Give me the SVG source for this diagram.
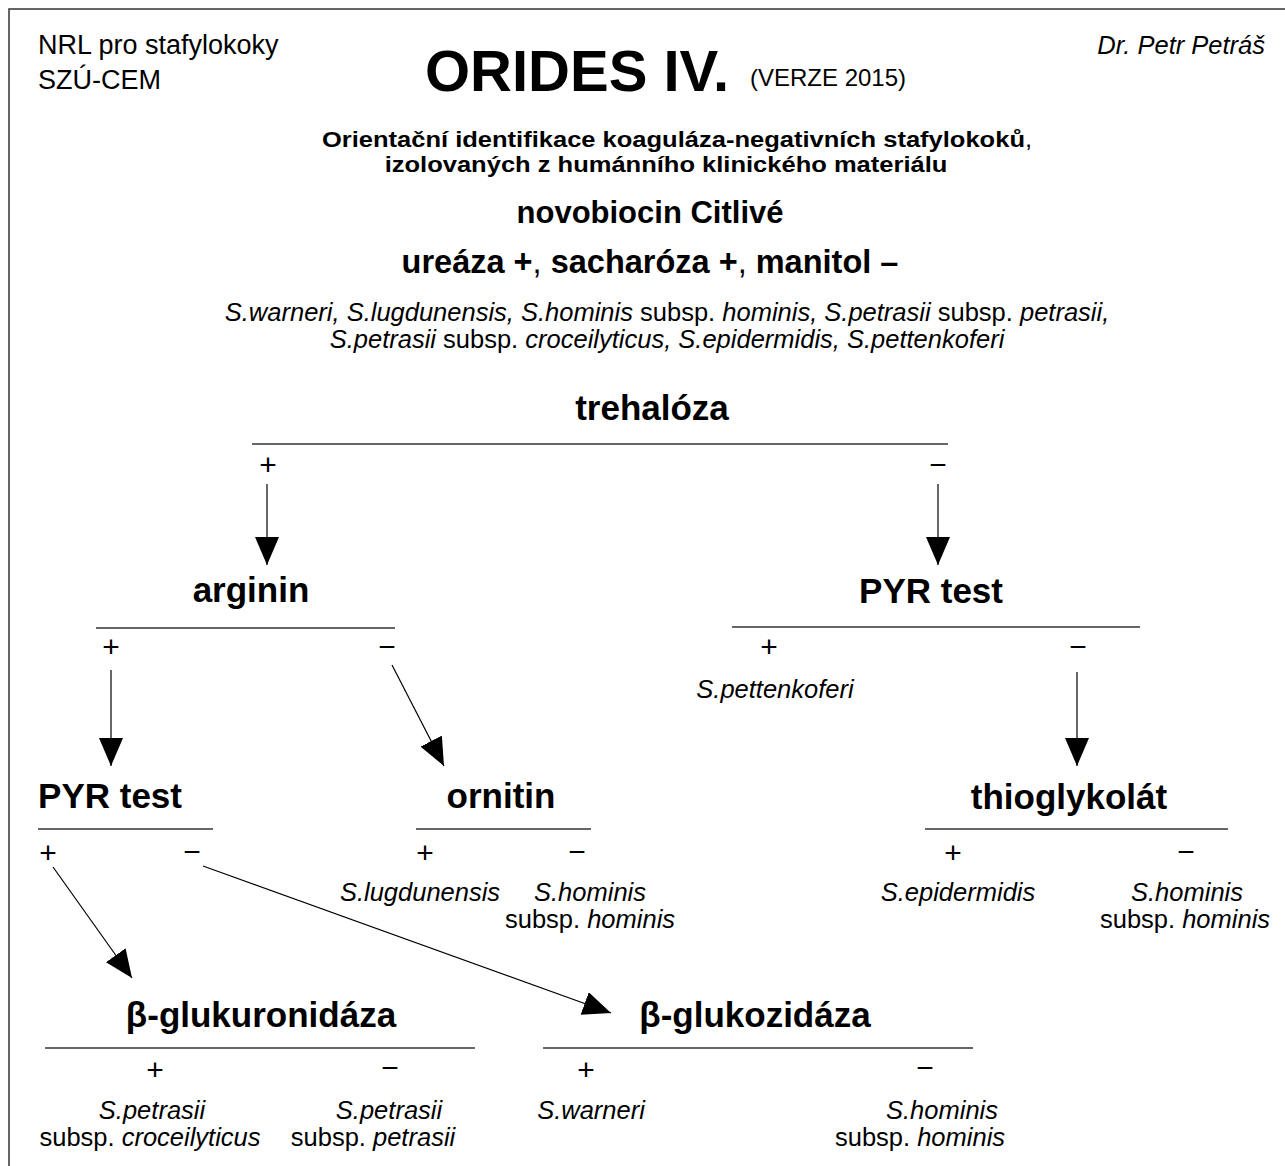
<svg xmlns="http://www.w3.org/2000/svg" width="1285" height="1166" viewBox="0 0 1285 1166">
<style>
text{font-family:"Liberation Sans",Arial,sans-serif;fill:#000}
.hdr{font-size:27px}
.title{font-size:58px;font-weight:bold}
.sub{font-size:22px;font-weight:bold;text-anchor:middle}
.big{font-size:31px;font-weight:bold}
.sp{font-size:25.5px;font-style:italic}
.node{font-size:35px;font-weight:bold;text-anchor:middle}
.sign{font-size:30px;text-anchor:middle}
.res{font-size:25.5px;font-style:italic;text-anchor:middle}
.n{font-style:normal}
.div{stroke:#333;stroke-width:1.5;fill:none}
.arr{stroke:#000;stroke-width:1.2;fill:none;marker-end:url(#ah)}
</style>
<defs>
<marker id="ah" markerUnits="userSpaceOnUse" markerWidth="28" markerHeight="24" refX="28" refY="12" orient="auto">
<path d="M0,0 L28,12 L0,24 z" fill="#000"/>
</marker>
</defs>
<rect width="1285" height="1166" fill="#fff"/>
<path d="M9,1166 V9 H1285" stroke="#333" stroke-width="1.5" fill="none"/>

<g id="header">
<text class="hdr" x="38" y="54">NRL pro stafylokoky</text>
<text class="hdr" x="38" y="89">SZÚ-CEM</text>
<text class="title" x="425" y="91">ORIDES IV.</text>
<text x="750" y="86" style="font-size:24px">(VERZE 2015)</text>
<text x="1265" y="54" style="font-size:25.5px;font-style:italic;text-anchor:end">Dr. Petr Petráš</text>
<text class="sub" transform="translate(677,147) scale(1.16,1)">Orientační identifikace koaguláza-negativních stafylokoků<tspan style="font-weight:normal">,</tspan></text>
<text class="sub" transform="translate(666,172) scale(1.16,1)">izolovaných z humánního klinického materiálu</text>
<text class="big" x="650" y="223" text-anchor="middle">novobiocin Citlivé</text>
<text class="big" x="650" y="273" text-anchor="middle" style="font-size:32.5px">ureáza +<tspan style="font-weight:normal">,</tspan> sacharóza +<tspan style="font-weight:normal">,</tspan> manitol –</text>
<text class="sp" x="667" y="321" text-anchor="middle">S.warneri, S.lugdunensis, S.hominis <tspan class="n">subsp.</tspan> hominis, S.petrasii <tspan class="n">subsp.</tspan> petrasii,</text>
<text class="sp" x="667" y="348" text-anchor="middle">S.petrasii <tspan class="n">subsp.</tspan> croceilyticus, S.epidermidis, S.pettenkoferi</text>
</g>

<g id="connectors">
<line class="arr" x1="267" y1="484" x2="267" y2="565"/>
<line class="arr" x1="938" y1="484" x2="938" y2="565"/>
<line class="arr" x1="111" y1="670" x2="111" y2="766"/>
<line class="arr" x1="392" y1="665" x2="444" y2="766"/>
<line class="arr" x1="1077" y1="672" x2="1077" y2="766"/>
<line class="arr" x1="53" y1="867" x2="132" y2="978"/>
<line class="arr" x1="203" y1="866" x2="611" y2="1013"/>
</g>

<g id="trehaloza">
<text class="node" x="652" y="420">trehalóza</text>
<line class="div" x1="252" y1="444" x2="948" y2="444"/>
<text class="sign" x="268" y="475">+</text>
<text class="sign" x="938" y="475">−</text>
</g>

<g id="arginin">
<text class="node" x="251" y="602">arginin</text>
<line class="div" x1="96" y1="628" x2="395" y2="628"/>
<text class="sign" x="111" y="657">+</text>
<text class="sign" x="387" y="657">−</text>
</g>

<g id="pyr-right">
<text class="node" x="931" y="603">PYR test</text>
<line class="div" x1="732" y1="627" x2="1140" y2="627"/>
<text class="sign" x="769" y="657">+</text>
<text class="sign" x="1078" y="657">−</text>
<text class="res" x="775" y="698">S.pettenkoferi</text>
</g>

<g id="pyr-left">
<text class="node" x="110" y="808">PYR test</text>
<line class="div" x1="38" y1="829" x2="213" y2="829"/>
<text class="sign" x="48" y="863">+</text>
<text class="sign" x="192" y="862">−</text>
</g>

<g id="ornitin">
<text class="node" x="501" y="808">ornitin</text>
<line class="div" x1="416" y1="829" x2="591" y2="829"/>
<text class="sign" x="425" y="863">+</text>
<text class="sign" x="577" y="862">−</text>
<text class="res" x="420" y="901">S.lugdunensis</text>
<text class="res" x="590" y="901">S.hominis</text>
<text class="res" x="590" y="928"><tspan class="n">subsp.</tspan> hominis</text>
</g>

<g id="thioglykolat">
<text class="node" x="1069" y="809">thioglykolát</text>
<line class="div" x1="925" y1="829" x2="1228" y2="829"/>
<text class="sign" x="953" y="863">+</text>
<text class="sign" x="1186" y="862">−</text>
<text class="res" x="958" y="901">S.epidermidis</text>
<text class="res" x="1187" y="901">S.hominis</text>
<text class="res" x="1185" y="928"><tspan class="n">subsp.</tspan> hominis</text>
</g>

<g id="glukuronidaza">
<text class="node" x="261" y="1027">β-glukuronidáza</text>
<line class="div" x1="45" y1="1048" x2="475" y2="1048"/>
<text class="sign" x="155" y="1080">+</text>
<text class="sign" x="390" y="1078">−</text>
<text class="res" x="152" y="1119">S.petrasii</text>
<text class="res" x="150" y="1146"><tspan class="n">subsp.</tspan> croceilyticus</text>
<text class="res" x="389" y="1119">S.petrasii</text>
<text class="res" x="373" y="1146"><tspan class="n">subsp.</tspan> petrasii</text>
</g>

<g id="glukozidaza">
<text class="node" x="755" y="1027">β-glukozidáza</text>
<line class="div" x1="543" y1="1048" x2="973" y2="1048"/>
<text class="sign" x="586" y="1080">+</text>
<text class="sign" x="925" y="1078">−</text>
<text class="res" x="591" y="1119">S.warneri</text>
<text class="res" x="942" y="1119">S.hominis</text>
<text class="res" x="920" y="1146"><tspan class="n">subsp.</tspan> hominis</text>
</g>
</svg>
